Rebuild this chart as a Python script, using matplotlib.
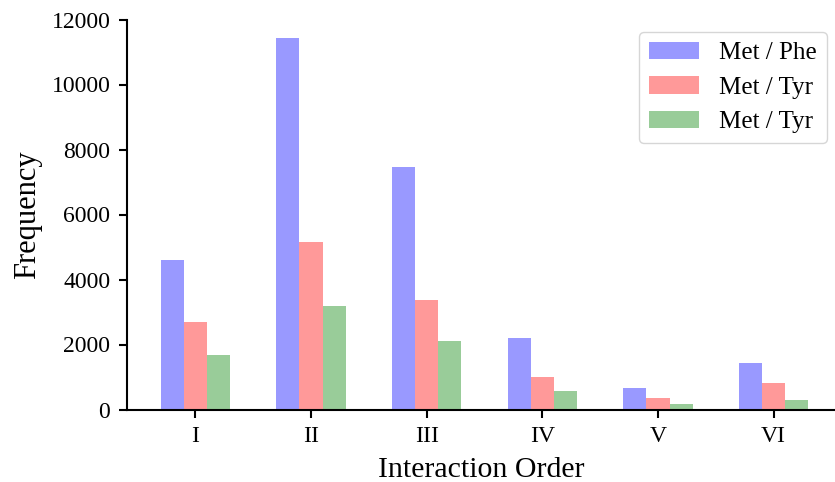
import numpy as np
import matplotlib
matplotlib.use('Agg')
from matplotlib import pyplot as plt

plt.rcParams['font.family'] = ['Liberation Serif', 'DejaVu Serif']

orders = ['I', 'II', 'III', 'IV', 'V', 'VI']
met_phe = [4600, 11430, 7460, 2215, 662, 1421]
met_tyr = [2690, 5150, 3365, 985, 354, 806]
met_tyr2 = [1675, 3180, 2102, 563, 180, 283]

x = np.arange(len(orders))
w = 0.2

fig = plt.figure(figsize=(8.35, 4.82), dpi=100)
ax = fig.add_axes([127/835, 72.5/482, 1 - 127/835, 390/482])

ax.bar(x - w, met_phe, w, color='b', alpha=0.4, label='Met / Phe')
ax.bar(x, met_tyr, w, color='r', alpha=0.4, label='Met / Tyr')
ax.bar(x + w, met_tyr2, w, color='g', alpha=0.4, label='Met / Tyr')

ax.set_xticks(x)
ax.set_xticklabels(orders)
ax.set_xlim(-0.59, 5.53)
ax.set_ylim(0, 12000)
ax.spines['top'].set_visible(False)
ax.spines['right'].set_visible(False)
ax.tick_params(labelsize=17, width=1.5, length=5.5, pad=6.5)
for s in ['left', 'bottom']:
    ax.spines[s].set_linewidth(1.5)
ax.set_xlabel('Interaction Order', fontsize=21.5, labelpad=7)
ax.set_ylabel('Frequency', fontsize=22, labelpad=7)
ax.legend(fontsize=18, handlelength=2.0, labelspacing=0.48, handletextpad=0.78,
          loc='upper right', bbox_to_anchor=(0.988, 0.968), borderaxespad=0)

plt.savefig('out.png', dpi=100)
